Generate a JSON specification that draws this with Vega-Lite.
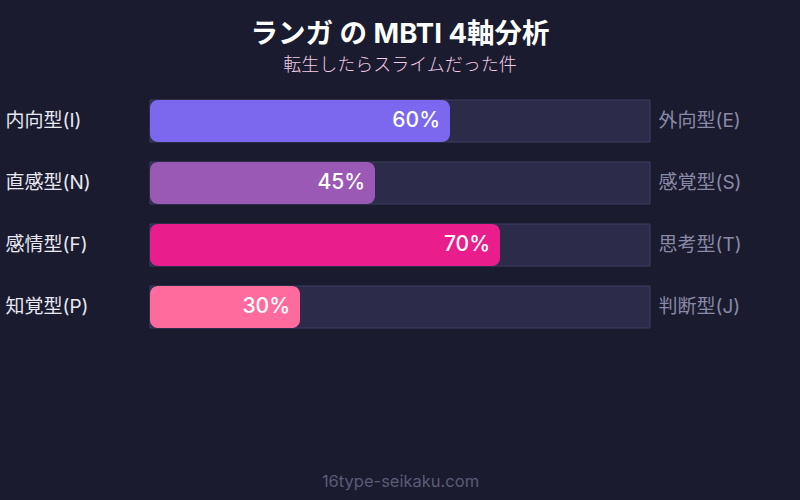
{
  "$schema": "https://vega.github.io/schema/vega-lite/v6.json",
  "description": "ランガ の MBTI 4軸分析",
  "autosize": {"type": "none"},
  "width": 500,
  "height": 248,
  "padding": {"left": 150, "top": 90, "right": 150, "bottom": 162},
  "background": "#1a1b2e",
  "title": {
    "text": "ランガ の MBTI 4軸分析",
    "subtitle": "転生したらスライムだった件",
    "anchor": "middle",
    "offset": 15,
    "fontSize": 27.5,
    "fontWeight": "bold",
    "color": "#ffffff",
    "subtitleFontSize": 18,
    "subtitleFontWeight": 300,
    "subtitleColor": "#f3cbe6",
    "subtitlePadding": 9,
    "font": "Inter, Noto Sans CJK JP",
    "subtitleFont": "Inter, Noto Sans CJK JP"
  },
  "data": {
    "values": [
      {"left": "内向型(I)", "right": "外向型(E)", "pct": 60, "full": 100, "label": "60%", "color": "#7b68ee"},
      {"left": "直感型(N)", "right": "感覚型(S)", "pct": 45, "full": 100, "label": "45%", "color": "#9b59b6"},
      {"left": "感情型(F)", "right": "思考型(T)", "pct": 70, "full": 100, "label": "70%", "color": "#e91e8c"},
      {"left": "知覚型(P)", "right": "判断型(J)", "pct": 30, "full": 100, "label": "30%", "color": "#ff6b9d"}
    ]
  },
  "layer": [
    {
      "mark": {"type": "bar", "color": "#2d2b4a", "stroke": "#3d3f62", "strokeWidth": 1},
      "encoding": {
        "y": {
          "field": "right",
          "type": "nominal",
          "sort": null,
          "scale": {"paddingInner": 0.323, "paddingOuter": 0.161},
          "axis": {
            "orient": "right",
            "title": null,
            "domain": false,
            "ticks": false,
            "labelPadding": 8,
            "labelFontSize": 19,
            "labelColor": "#8a8aa8",
            "labelFont": "Inter, Noto Sans CJK JP"
          }
        },
        "x": {
          "field": "full",
          "type": "quantitative",
          "scale": {"domain": [0, 100]},
          "axis": {
            "title": "16type-seikaku.com",
            "titleFontSize": 16.5,
            "titleFontWeight": "normal",
            "titleColor": "#5a5c7a",
            "titleFont": "Inter, Noto Sans CJK JP",
            "titlePadding": 135,
            "domain": false,
            "ticks": false,
            "labels": false,
            "grid": false
          }
        }
      }
    },
    {
      "mark": {"type": "bar", "cornerRadius": 8},
      "encoding": {
        "y": {
          "field": "left",
          "type": "nominal",
          "sort": null,
          "scale": {"paddingInner": 0.323, "paddingOuter": 0.161},
          "axis": {
            "orient": "left",
            "title": null,
            "domain": false,
            "ticks": false,
            "labelAlign": "left",
            "labelPadding": 145,
            "labelFontSize": 19,
            "labelColor": "#e8e8f2",
            "labelFont": "Inter, Noto Sans CJK JP"
          }
        },
        "x": {"field": "pct", "type": "quantitative"},
        "color": {"field": "color", "type": "nominal", "scale": null, "legend": null}
      }
    },
    {
      "mark": {"type": "text", "align": "right", "dx": -10, "fontSize": 21, "fontWeight": 500, "color": "#ffffff", "font": "Inter, Noto Sans CJK JP"},
      "encoding": {
        "y": {
          "field": "left",
          "type": "nominal",
          "sort": null,
          "scale": {"paddingInner": 0.323, "paddingOuter": 0.161},
          "axis": null
        },
        "x": {"field": "pct", "type": "quantitative"},
        "text": {"field": "label"}
      }
    }
  ],
  "resolve": {"scale": {"y": "independent"}},
  "config": {
    "view": {"stroke": null},
    "axis": {"grid": false}
  }
}
